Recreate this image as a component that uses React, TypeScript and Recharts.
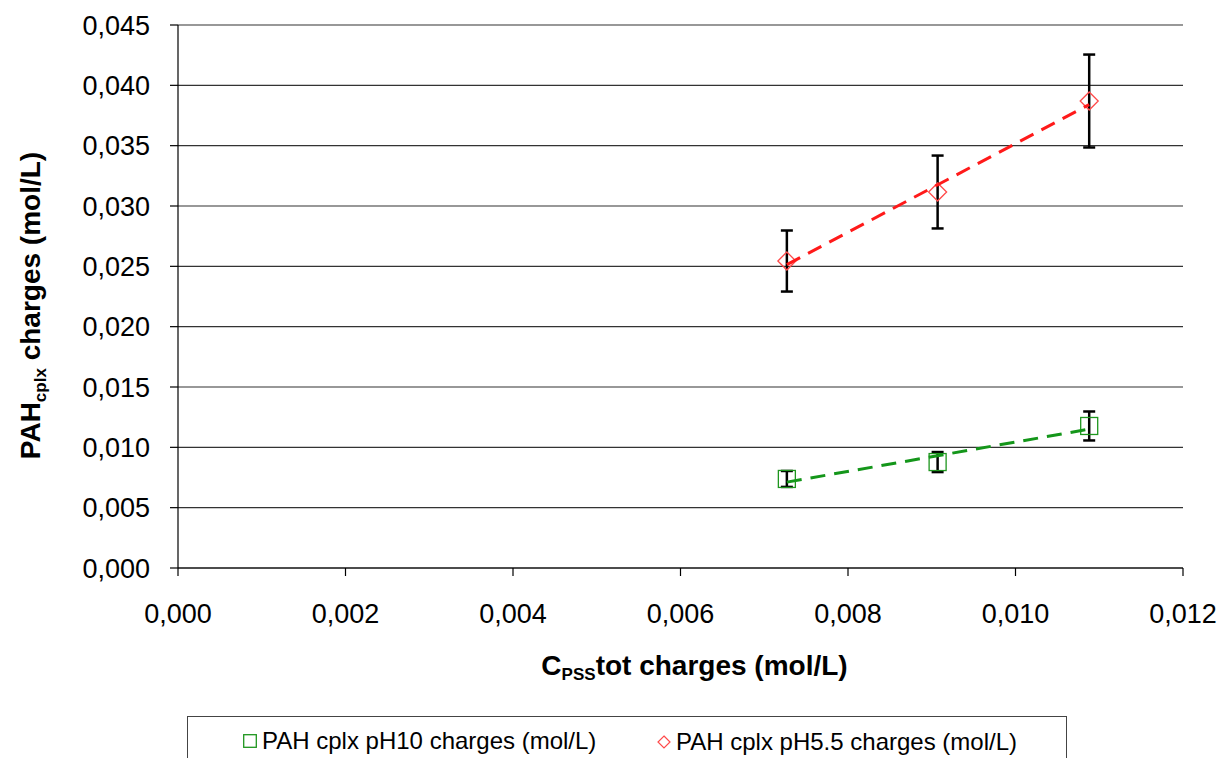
import { ScatterChart, Scatter, XAxis, YAxis, CartesianGrid, ErrorBar, Legend, Label } from "recharts"

const FONT = '"Liberation Sans", Arial, Helvetica, sans-serif'

// axis ticks
const X_TICKS = [0, 0.002, 0.004, 0.006, 0.008, 0.01, 0.012]
const Y_TICKS = [0, 0.005, 0.01, 0.015, 0.02, 0.025, 0.03, 0.035, 0.04, 0.045]

// C_PSS tot charges (mol/L), shared by both series
const C_PSS = [0.00727, 0.00907, 0.01088]

// PAH cplx pH10
const PH10_Y = [0.00738, 0.00878, 0.01177]
const PH10_ERR = [0.00066, 0.00083, 0.0012]

// PAH cplx pH5.5
const PH55_Y = [0.02544, 0.03116, 0.0387]
const PH55_ERR = [0.00253, 0.00302, 0.00385]

const SERIES_NAMES = ["PAH cplx pH10 charges (mol/L)", "PAH cplx pH5.5 charges (mol/L)"]

const GREEN = "#1e961e"
const GREEN_LINE = "#14961a"
const RED = "#ff4a4a"
const RED_LINE = "#ff1a1a"

type Pt = { x: number; y: number; err?: number }

const points = (ys: number[], errs: number[]): Pt[] =>
  C_PSS.map((x, i) => ({ x, y: ys[i], err: errs[i] }))

// least-squares trendline, drawn from first to last x
function trend(xs: number[], ys: number[]): Pt[] {
  const n = xs.length
  const mx = xs.reduce((s, v) => s + v, 0) / n
  const my = ys.reduce((s, v) => s + v, 0) / n
  let sxy = 0
  let sxx = 0
  xs.forEach((x, i) => {
    sxy += (x - mx) * (ys[i] - my)
    sxx += (x - mx) * (x - mx)
  })
  const slope = sxy / sxx
  return [xs[0], xs[n - 1]].map((x) => ({ x, y: my + slope * (x - mx) }))
}

const ph10 = points(PH10_Y, PH10_ERR)
const ph55 = points(PH55_Y, PH55_ERR)
const ph10Trend = trend(C_PSS, PH10_Y)
const ph55Trend = trend(C_PSS, PH55_Y)

const fmt = (v: number) => v.toFixed(3).replace(".", ",")

const Square = (p: any) => (
  <rect x={p.cx - 8.5} y={p.cy - 8.5} width={17} height={17} fill="none" stroke={GREEN} strokeWidth={1.3} />
)

const Diamond = (p: any) => (
  <polygon
    points={`${p.cx},${p.cy - 9} ${p.cx + 9},${p.cy} ${p.cx},${p.cy + 9} ${p.cx - 9},${p.cy}`}
    fill="none"
    stroke={RED}
    strokeWidth={1.3}
  />
)

const NoDot = () => <g />

const YTitle = (props: any) => {
  const vb = props.viewBox
  const cx = 40
  const cy = vb.y + vb.height / 2 + 9
  return (
    <text
      x={cx}
      y={cy}
      transform={`rotate(-90 ${cx} ${cy})`}
      textAnchor="middle"
      fontFamily={FONT}
      fontWeight="bold"
      fontSize={28}
      fill="#000"
    >
      <tspan>PAH</tspan>
      <tspan fontSize={17} dy={6}>cplx</tspan>
      <tspan dy={-6}> charges (mol/L)</tspan>
    </text>
  )
}

const XTitle = (props: any) => {
  const vb = props.viewBox
  const cx = vb.x + vb.width / 2 + 14
  const y = vb.y + 107
  return (
    <text x={cx} y={y} textAnchor="middle" fontFamily={FONT} fontWeight="bold" fontSize={28} fill="#000">
      <tspan>C</tspan>
      <tspan fontSize={17} dy={5}>PSS</tspan>
      <tspan dy={-5}>tot charges (mol/L)</tspan>
    </text>
  )
}

const LegendBox = () => (
  <div
    style={{
      position: "relative",
      width: 880,
      height: 42,
      boxSizing: "border-box",
      borderTop: "1.5px solid #444",
      borderLeft: "1.5px solid #444",
      borderRight: "1.5px solid #444",
      fontFamily: FONT,
      fontSize: 24,
      color: "#000",
    }}
  >
    <div style={{ position: "absolute", left: 55, top: 0, height: 47, display: "flex", alignItems: "center" }}>
      <svg width={14} height={14} style={{ marginRight: 5 }}>
        <rect x={0.7} y={0.7} width={12.6} height={12.6} fill="none" stroke={GREEN} strokeWidth={1.3} />
      </svg>
      <span style={{ whiteSpace: "nowrap" }}>{SERIES_NAMES[0]}</span>
    </div>
    <div style={{ position: "absolute", left: 469, top: 0, height: 50, display: "flex", alignItems: "center" }}>
      <svg width={14} height={14} style={{ marginRight: 5 }}>
        <polygon points="7,1 13,7 7,13 1,7" fill="none" stroke={RED} strokeWidth={1.2} />
      </svg>
      <span style={{ whiteSpace: "nowrap" }}>{SERIES_NAMES[1]}</span>
    </div>
  </div>
)

export default function App() {
  return (
    <div style={{ position: "absolute", left: 0, top: 0, background: "#fff", fontFamily: FONT }}>
      <ScatterChart width={1224} height={758} margin={{ top: 25, right: 41, bottom: 130, left: 0 }}>
        <CartesianGrid vertical={false} stroke="#333" strokeWidth={1.2} />
        <XAxis
          type="number"
          dataKey="x"
          domain={[0, 0.012]}
          ticks={X_TICKS}
          tickFormatter={fmt}
          height={60}
          tickSize={8}
          tickMargin={28}
          axisLine={{ stroke: "#000", strokeWidth: 1.2 }}
          tickLine={{ stroke: "#000", strokeWidth: 1.2 }}
          tick={{ fontSize: 27, fill: "#000", fontFamily: FONT }}
          allowDataOverflow
        >
          <Label content={XTitle} />
        </XAxis>
        <YAxis
          type="number"
          dataKey="y"
          domain={[0, 0.045]}
          ticks={Y_TICKS}
          tickFormatter={fmt}
          width={178}
          tickSize={8}
          tickMargin={20}
          axisLine={{ stroke: "#000", strokeWidth: 1.2 }}
          tickLine={{ stroke: "#000", strokeWidth: 1.2 }}
          tick={{ fontSize: 27, fill: "#000", fontFamily: FONT }}
          allowDataOverflow
        >
          <Label content={YTitle} />
        </YAxis>
        <Scatter name={SERIES_NAMES[0]} data={ph10} shape={Square} isAnimationActive={false}>
          <ErrorBar dataKey="err" direction="y" width={6} stroke="#000" strokeWidth={2.5} />
        </Scatter>
        <Scatter name={SERIES_NAMES[1]} data={ph55} shape={Diamond} isAnimationActive={false}>
          <ErrorBar dataKey="err" direction="y" width={6} stroke="#000" strokeWidth={2.5} />
        </Scatter>
        <Scatter
          data={ph10Trend}
          shape={NoDot}
          line={{ stroke: GREEN_LINE, strokeWidth: 3, strokeDasharray: "15 9" }}
          legendType="none"
          isAnimationActive={false}
        />
        <Scatter
          data={ph55Trend}
          shape={NoDot}
          line={{ stroke: RED_LINE, strokeWidth: 3, strokeDasharray: "15 9" }}
          legendType="none"
          isAnimationActive={false}
        />
        <Legend
          layout="horizontal"
          verticalAlign="middle"
          align="center"
          wrapperStyle={{ left: 187, top: 716, width: 880, height: 42 }}
          content={LegendBox}
        />
      </ScatterChart>
    </div>
  )
}
